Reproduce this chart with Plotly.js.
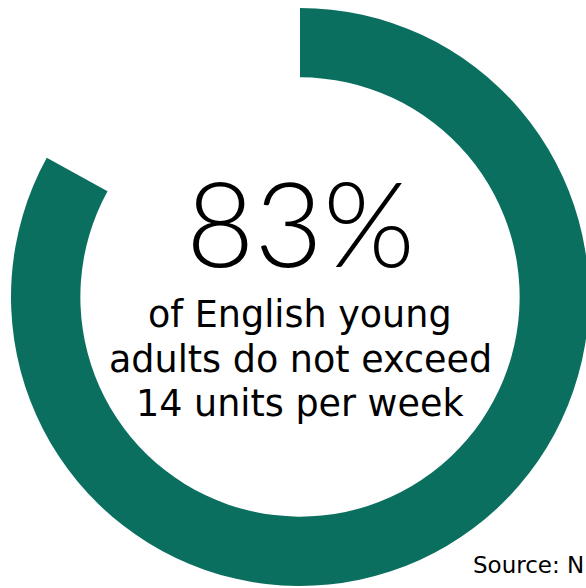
<!DOCTYPE html>
<html>
<head>
<meta charset="utf-8">
<script src="https://cdn.plot.ly/plotly-3.0.1.min.js"></script>
<style>
html,body{margin:0;padding:0;overflow:hidden;background:#fff;width:586px;height:588px;}
#chart{width:620px;height:588px;}
</style>
</head>
<body>
<div id="chart"></div>
<script>
// Data
const labels = ["Do not exceed 14 units", "Exceed 14 units"];
const values = [83, 17];
const sliceColors = ["#0b6f60", "rgba(255,255,255,0)"];
const bigLabel = "83%";
const captionLines = ["of English young", "adults do not exceed", "14 units per week"];
const sourceText = "Source: N";

const W = 620, H = 588;
const cx = 300, cy = 297, R = 289;
const px = x => x / W;
const py = y => (H - y) / H;

const trace = {
  type: "pie",
  labels: labels,
  values: values,
  hole: 0.76,
  sort: false,
  direction: "clockwise",
  rotation: 0,
  marker: {colors: sliceColors, line: {width: 0}},
  textinfo: "none",
  hoverinfo: "none",
  showlegend: false,
  domain: {x: [px(cx - R), px(cx + R)], y: [py(cy + R), py(cy - R)]}
};

const bigFont = "Lato, 'DejaVu Sans', sans-serif";
const font = "'DejaVu Sans', sans-serif";
const annotations = [
  {text: bigLabel, x: px(300), y: py(221), xref: "paper", yref: "paper",
   xanchor: "center", yanchor: "middle", showarrow: false,
   font: {family: bigFont, size: 118, color: "#000", weight: 300}}
];
const lineY = [314, 359, 403];
captionLines.forEach((t, i) => annotations.push({
  text: t, x: px(300), y: py(lineY[i]), xref: "paper", yref: "paper",
  xanchor: "center", yanchor: "middle", showarrow: false,
  font: {family: font, size: 36.5, color: "#000"}
}));
annotations.push({text: sourceText, x: px(471), y: py(565), xref: "paper", yref: "paper",
  xanchor: "left", yanchor: "middle", showarrow: false,
  font: {family: font, size: 23, color: "#000"}});

Plotly.newPlot("chart", [trace], {
  width: W, height: H,
  margin: {l: 0, r: 0, t: 0, b: 0},
  paper_bgcolor: "#fff", plot_bgcolor: "#fff",
  annotations: annotations
}, {displayModeBar: false, staticPlot: true});
</script>
</body>
</html>
